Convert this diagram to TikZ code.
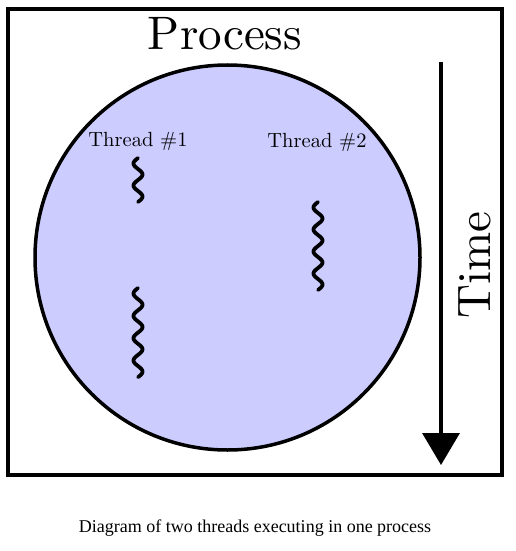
\documentclass[tikz,border=0pt]{standalone}
\usepackage{fontspec}
\newfontfamily\capfont{Liberation Serif}
\newfontfamily\lmten{lmroman10-regular.otf}
\usetikzlibrary{arrows.meta}
\definecolor{procfill}{RGB}{204,204,255}

\begin{document}
\begin{tikzpicture}[x=1pt,y=1pt,yscale=-1,xscale=1,
  thread/.style={line width=3.8pt,line cap=round},
  bigtext/.style={font=\lmten\fontsize{47}{56}\selectfont,inner sep=0pt},
  threadtext/.style={font=\lmten\fontsize{20.5}{24}\selectfont,inner sep=0pt,anchor=base}]
\useasboundingbox (0,0) rectangle (516,551);

%Shape: Frame
\draw [line width=4pt] (8,9) rectangle (502,475);
%Shape: Circle
\draw [line width=3.5pt,fill=procfill] (227.5,257.5) circle [radius=192.5];

%Arrow: Time axis
\coordinate (tstart) at (441,62);
\coordinate (tend) at (441,465);
\draw [line width=3.5pt,-{Triangle[width=37pt,length=32pt]}] (tstart) -- (tend);

%Squiggle: Thread 1 (upper)
\draw [thread,shift={(138,158)}] plot [domain=0:2,samples=60,smooth] ({-4.5*sin(\x*360)},{\x*22});
%Squiggle: Thread 1 (lower)
\draw [thread,shift={(138,288)}] plot [domain=0:4,samples=120,smooth] ({-4.5*sin(\x*360)},{\x*22.3});
%Squiggle: Thread 2
\draw [thread,shift={(318,202)}] plot [domain=0:4,samples=120,smooth] ({-4.5*sin(\x*360)},{\x*22});

% Text Node
\node (proc) [bigtext,anchor=base] at (225,50) {Process};
% Text Node
\node (time) [bigtext,anchor=base,rotate=90] at (490,265) {Time};
% Text Node
\node (th1) [threadtext] at (138,146) {Thread \#1};
% Text Node
\node (th2) [threadtext] at (317,147) {Thread \#2};
% Text Node
\node (cap) [font=\capfont\fontsize{18}{21}\selectfont,inner sep=0pt,anchor=base] at (255,532) {Diagram of two threads executing in one process};

\end{tikzpicture}
\end{document}
